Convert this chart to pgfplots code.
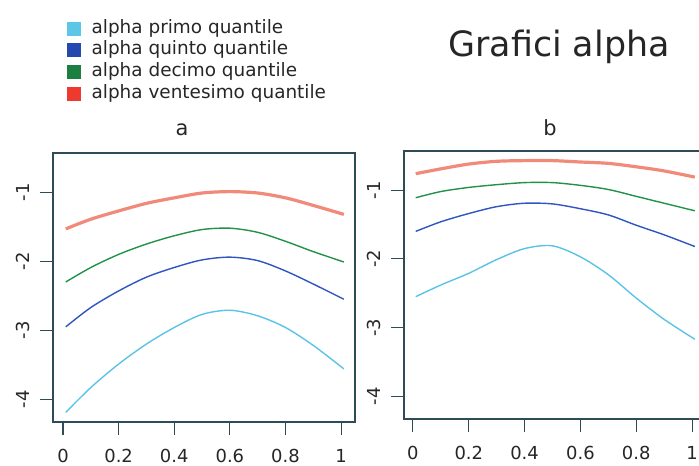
\documentclass[border=0pt]{standalone}
\usepackage{fontspec}
\setmainfont{DejaVu Sans}
\usepackage{pgfplots}
\pgfplotsset{compat=1.18}
\definecolor{cC}{HTML}{5BC3E6}
\definecolor{cB}{HTML}{2F55C0}
\definecolor{cG}{HTML}{22924A}
\definecolor{cR}{HTML}{F28A7A}
\definecolor{lC}{HTML}{5CC6E6}
\definecolor{lB}{HTML}{2448B0}
\definecolor{lG}{HTML}{1C7F3F}
\definecolor{lR}{HTML}{EE3A2E}
\definecolor{bx}{HTML}{2E4B57}
\pgfplotsset{
  panel/.style={
    scale only axis,
    width=302bp,
    ymin=-4.33, ymax=-0.43,
    xtick={0,0.2,0.4,0.6,0.8,1},
    xticklabels={0,0.2,0.4,0.6,0.8,1},
    ytick={-4,-3,-2,-1},
    yticklabels={{-4},{-3},{-2},{-1}},
    xtick pos=left, ytick pos=left,
    tick align=outside,
    major tick length=13bp,
    tick style={bx, line width=1.1bp},
    axis line style={bx, line width=1.2bp},
    ticklabel style={font=\fontsize{18}{21}\selectfont, text=black!85},
    yticklabel style={rotate=90, anchor=south},
    xticklabel style={anchor=north},
    xticklabel shift=11bp,
    yticklabel shift=7bp,
    clip=false,
  },
}
\begin{document}
\begin{tikzpicture}
\useasboundingbox (0,0) rectangle (699bp,466bp);
\clip (0,0) rectangle (699bp,466bp);
\begin{axis}[panel, at={(53bp,44bp)}, anchor=south west, height=269bp,
  xmin=-0.036, xmax=1.05,
  legend style={draw=none, fill=none, inner sep=0pt, row sep=3.3bp, column sep=11bp,
    nodes={inner sep=0pt, text height=14bp, text depth=4.4bp, anchor=base west},
    font=\fontsize{18.5}{20}\selectfont, text=black!85,
    at={(0.0464,1.498)}, anchor=north west},
  legend cell align=left]
\addlegendimage{legend image code/.code={\fill[lC] (0bp,-1.5bp) rectangle (13bp,11.5bp);}}
\addlegendentry{alpha primo quantile}
\addlegendimage{legend image code/.code={\fill[lB] (0bp,-1.5bp) rectangle (13bp,11.5bp);}}
\addlegendentry{alpha quinto quantile}
\addlegendimage{legend image code/.code={\fill[lG] (0bp,-1.5bp) rectangle (13bp,11.5bp);}}
\addlegendentry{alpha decimo quantile}
\addlegendimage{legend image code/.code={\fill[lR] (0bp,-1.5bp) rectangle (13bp,11.5bp);}}
\addlegendentry{alpha ventesimo quantile}
\addplot[cR, line width=3.2bp, smooth, forget plot] coordinates {
(0.01,-1.53) (0.1,-1.39) (0.2,-1.27) (0.3,-1.16) (0.4,-1.08) (0.5,-1.01) (0.6,-0.99) (0.7,-1.01) (0.8,-1.08) (0.9,-1.19) (1.01,-1.32)};
\addplot[cG, line width=1.4bp, smooth, forget plot] coordinates {
(0.01,-2.30) (0.1,-2.09) (0.2,-1.90) (0.3,-1.75) (0.4,-1.63) (0.5,-1.54) (0.6,-1.52) (0.7,-1.58) (0.8,-1.71) (0.9,-1.86) (1.01,-2.01)};
\addplot[cB, line width=1.4bp, smooth, forget plot] coordinates {
(0.01,-2.95) (0.1,-2.67) (0.2,-2.43) (0.3,-2.23) (0.4,-2.09) (0.5,-1.98) (0.6,-1.94) (0.7,-1.99) (0.8,-2.14) (0.9,-2.33) (1.01,-2.55)};
\addplot[cC, line width=1.4bp, smooth, forget plot] coordinates {
(0.01,-4.19) (0.1,-3.83) (0.2,-3.49) (0.3,-3.20) (0.4,-2.96) (0.5,-2.77) (0.6,-2.71) (0.7,-2.79) (0.8,-2.96) (0.9,-3.22) (1.01,-3.56)};
\end{axis}
\begin{axis}[panel, at={(404bp,47bp)}, anchor=south west, height=268bp,
  xmin=-0.032, xmax=1.05]
\addplot[cR, line width=3.2bp, smooth] coordinates {
(0.01,-0.76) (0.1,-0.69) (0.2,-0.62) (0.3,-0.58) (0.4,-0.57) (0.5,-0.57) (0.6,-0.59) (0.7,-0.61) (0.8,-0.66) (0.9,-0.72) (1.01,-0.81)};
\addplot[cG, line width=1.4bp, smooth] coordinates {
(0.01,-1.11) (0.1,-1.02) (0.2,-0.96) (0.3,-0.92) (0.4,-0.89) (0.5,-0.89) (0.6,-0.93) (0.7,-0.99) (0.8,-1.09) (0.9,-1.19) (1.01,-1.30)};
\addplot[cB, line width=1.4bp, smooth] coordinates {
(0.01,-1.60) (0.1,-1.46) (0.2,-1.34) (0.3,-1.24) (0.4,-1.19) (0.5,-1.20) (0.6,-1.27) (0.7,-1.36) (0.8,-1.51) (0.9,-1.65) (1.01,-1.82)};
\addplot[cC, line width=1.4bp, smooth] coordinates {
(0.01,-2.55) (0.1,-2.38) (0.2,-2.21) (0.3,-2.01) (0.4,-1.85) (0.5,-1.81) (0.6,-1.97) (0.7,-2.23) (0.8,-2.57) (0.9,-2.88) (1.01,-3.17)};
\end{axis}
\node[anchor=base, font=\fontsize{21}{24}\selectfont, text=black!85] at (182bp,330bp) {a};
\node[anchor=base, font=\fontsize{21}{24}\selectfont, text=black!85] at (550bp,330bp) {b};
\node[anchor=base, font=\fontsize{35}{40}\selectfont, text=black!85] at (559bp,409bp) {Grafici alpha};
\end{tikzpicture}
\end{document}
